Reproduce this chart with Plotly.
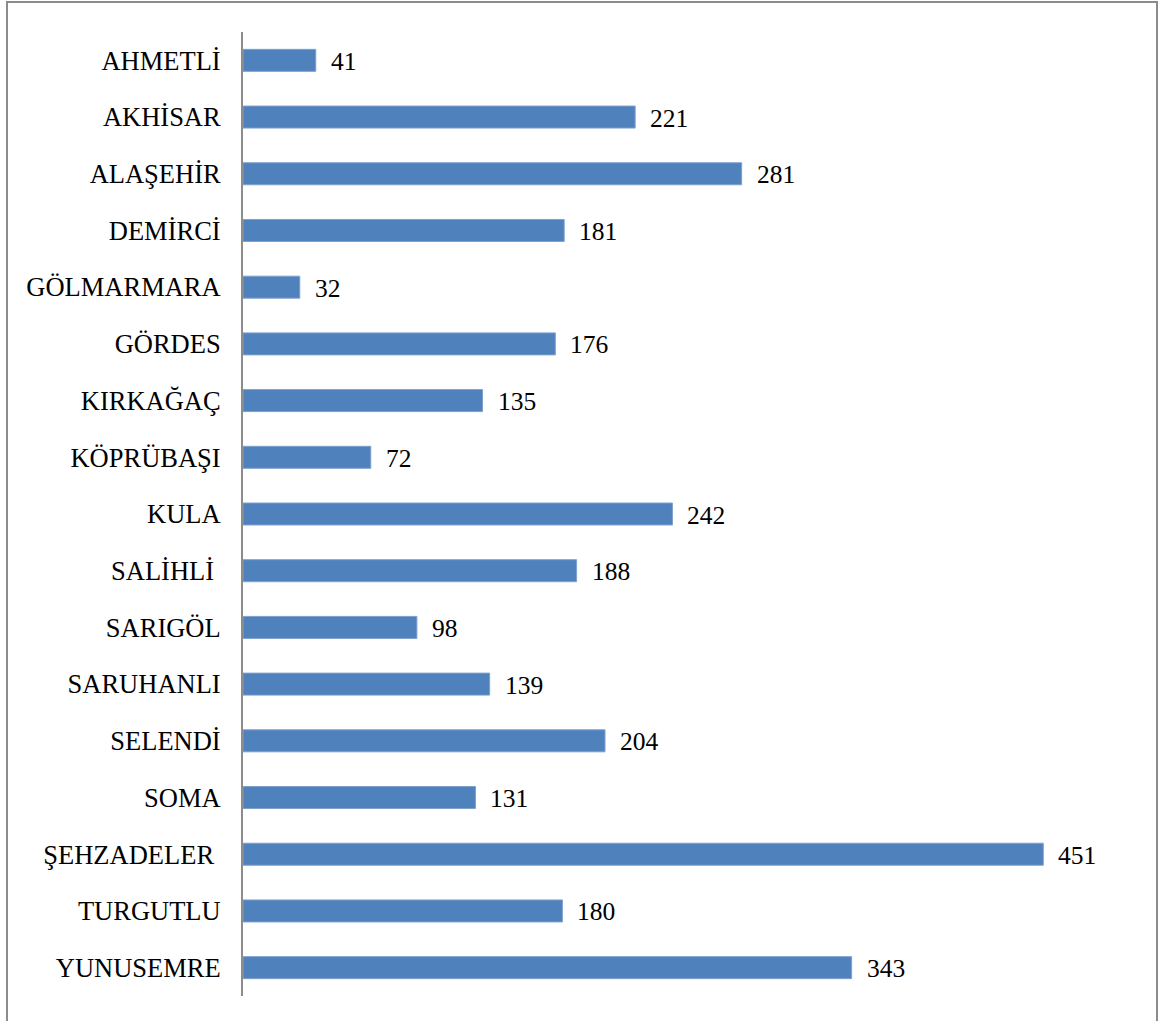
import plotly.graph_objects as go

categories = ["AHMETLİ", "AKHİSAR", "ALAŞEHİR", "DEMİRCİ", "GÖLMARMARA", "GÖRDES",
              "KIRKAĞAÇ", "KÖPRÜBAŞI", "KULA", "SALİHLİ\u00a0", "SARIGÖL", "SARUHANLI",
              "SELENDİ", "SOMA", "ŞEHZADELER\u00a0", "TURGUTLU", "YUNUSEMRE"]
values = [41, 221, 281, 181, 32, 176, 135, 72, 242, 188, 98, 139, 204, 131, 451, 180, 343]

W, H = 1159, 1021
L, R, T, B = 243, 19, 32, 25
pw, ph = W - L - R, H - T - B
scale = (1043.3 - 243) / 451
xmax = pw / scale

FONT = "Liberation Serif"

fig = go.Figure()
fig.add_trace(go.Bar(
    x=values, y=categories, orientation="h",
    marker=dict(color="#4F81BD", line=dict(color="#7EA1CE", width=1)),
    hoverinfo="x+y",
))

for c, v in zip(categories, values):
    fig.add_annotation(x=v, y=c, text=str(v), showarrow=False, xanchor="left",
                       xshift=13, yshift=-1, font=dict(family=FONT, size=25.5, color="#000"))

fig.add_shape(type="rect", xref="paper", yref="paper",
              x0=(7 - L) / pw, x1=(1157 - L) / pw,
              y0=-0.2, y1=1 + (T - 2) / ph,
              line=dict(color="#8C8C8C", width=2), fillcolor="rgba(0,0,0,0)", layer="below")

fig.update_layout(
    width=W, height=H,
    margin=dict(l=L, r=R, t=T, b=B, pad=0),
    paper_bgcolor="white", plot_bgcolor="white",
    bargap=0.612,
    showlegend=False,
    font=dict(family=FONT, size=25, color="#000"),
    xaxis=dict(range=[0, xmax], visible=False, showgrid=False, zeroline=False, fixedrange=True),
    yaxis=dict(autorange="reversed", showline=True, linecolor="#8C8C8C", linewidth=2,
               showgrid=False, zeroline=False, ticks="outside", ticklen=15,
               tickcolor="rgba(0,0,0,0)", tickfont=dict(family=FONT, size=26.5, color="#000")),
)

fig.write_html("out.html", config={"displayModeBar": False},
               post_script="document.body.style.margin='0';")
